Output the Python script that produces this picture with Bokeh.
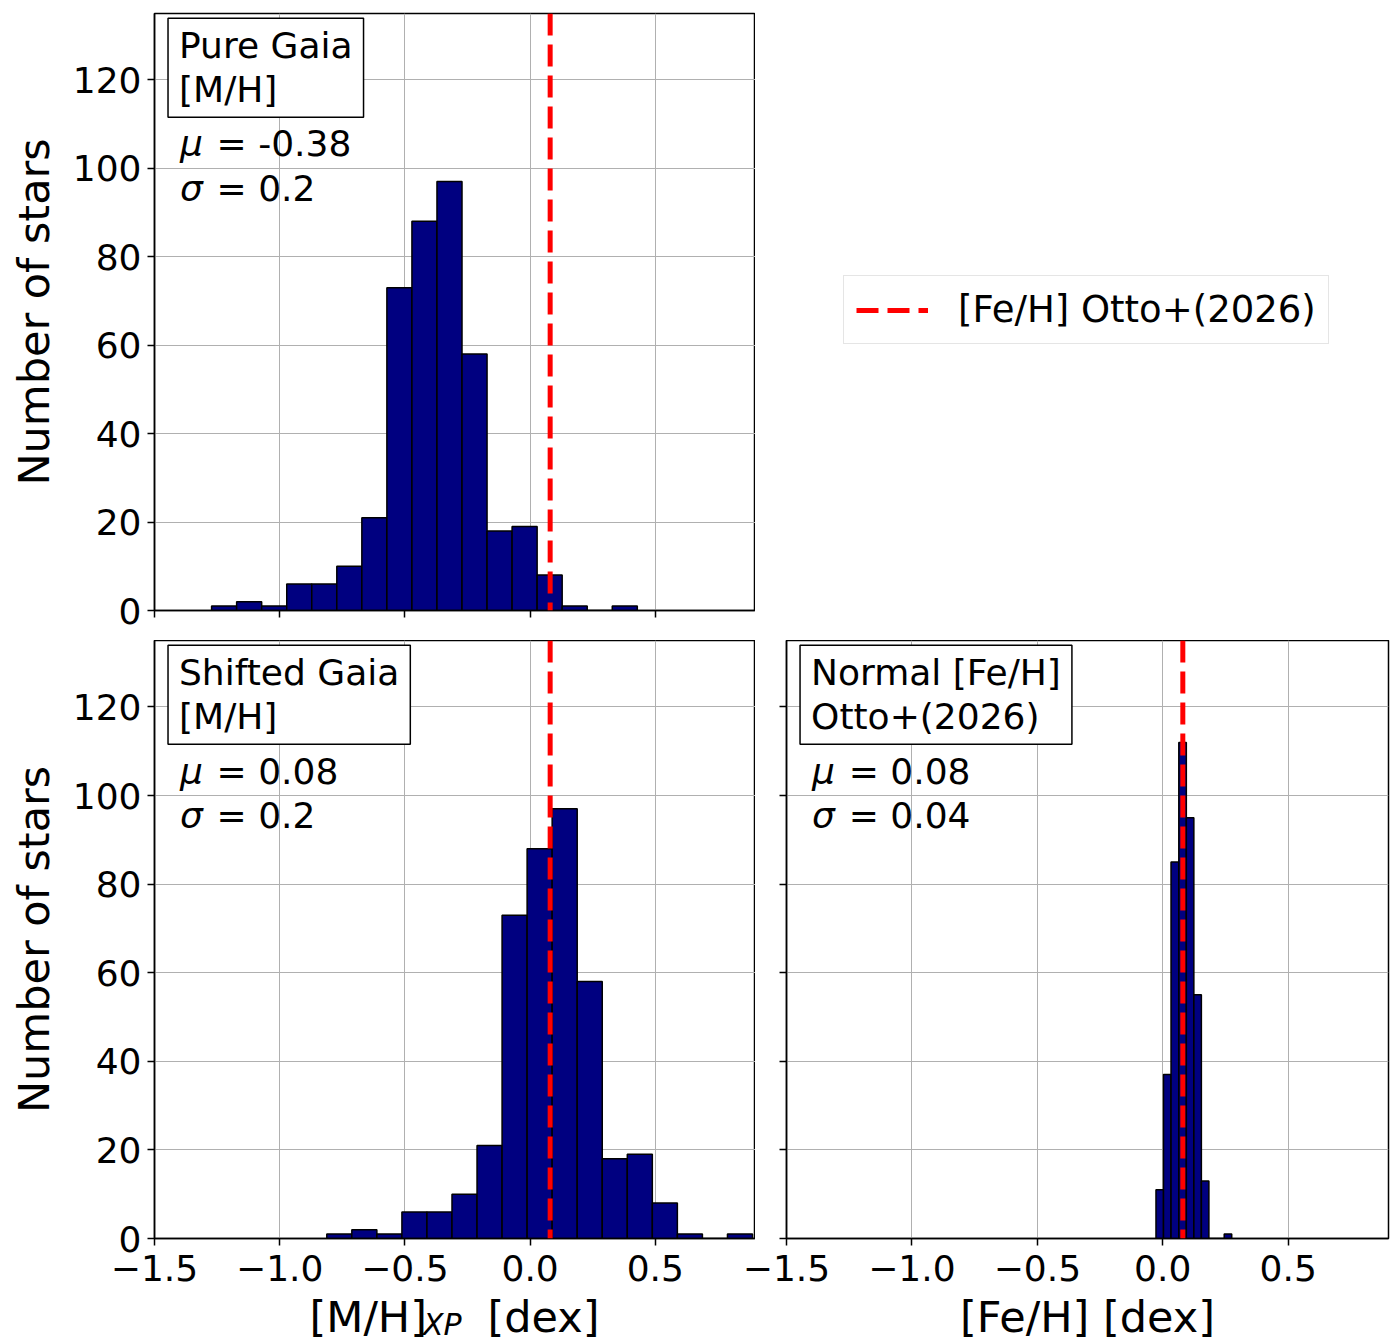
from bokeh.plotting import figure
from bokeh.layouts import column, row
from bokeh.models import Range1d, Span, Label, Legend, LegendItem, FixedTicker
from bokeh.core.properties import value
from bokeh.embed import file_html
from bokeh.resources import INLINE

FONT = "DejaVu Sans"
TICK_FS = "36px"
LABEL_FS = "43px"

# ---------------- data ----------------
pure_edges = [-1.272, -1.172, -1.072, -0.972, -0.872, -0.772, -0.672, -0.572, -0.472,
              -0.372, -0.272, -0.172, -0.072, 0.028, 0.128, 0.228, 0.328, 0.428]
pure_counts = [1, 2, 1, 6, 6, 10, 21, 73, 88, 97, 58, 18, 19, 8, 1, 0, 1]

shifted_edges = [-0.812, -0.712, -0.612, -0.512, -0.412, -0.312, -0.212, -0.112, -0.012,
                 0.088, 0.188, 0.288, 0.388, 0.488, 0.588, 0.688, 0.788, 0.888]
shifted_counts = [1, 2, 1, 6, 6, 10, 21, 73, 88, 97, 58, 18, 19, 8, 1, 0, 1]

normal_edges = [-0.027, 0.003, 0.033, 0.064, 0.094, 0.124, 0.154, 0.184, 0.214, 0.245, 0.275]
normal_counts = [11, 37, 85, 112, 95, 55, 13, 0, 0, 1]

otto_feh = 0.08

box_texts = ["Pure Gaia\n[M/H]", "Shifted Gaia\n[M/H]", "Normal [Fe/H]\nOtto+(2026)"]
mu_texts = ["-0.38", "0.08", "0.08"]
sigma_texts = ["0.2", "0.2", "0.04"]

x_ticks = [-1.5, -1.0, -0.5, 0.0, 0.5]
x_tick_labels = ["\u22121.5", "\u22121.0", "\u22120.5", "0.0", "0.5"]
y_ticks = [0, 20, 40, 60, 80, 100, 120]

legend_label = "[Fe/H] Otto+(2026)"
y_label = "Number of stars"
x_label_left = ("[M/H]", "XP", "[dex]")
x_label_right = "[Fe/H] [dex]"

X_RANGE = (-1.5, 0.9)
Y_RANGE = (0, 135)

# ---------------- layout geometry (pixels) ----------------
TOTAL_W, TOTAL_H = 1390, 1341
LEFT_W, RIGHT_W = 601, 602
LEFT_X0, RIGHT_X0 = 154, 786          # frame left edges on the page
TOP_Y0, TOP_H, TOP_GAP = 13, 597, 30
BOT_H, BOT_PAD = 598, 45              # bottom border of the lower panels (room for ticks)
BOT_Y1 = TOP_Y0 + TOP_H + TOP_GAP + BOT_H   # page y of the lower frames' bottom edge
STRIP_Y0 = BOT_Y1 + 9                 # the text strip starts just below the tick marks
STRIP_H = TOTAL_H - STRIP_Y0
STRIP_OVERLAP = (BOT_Y1 + BOT_PAD) - STRIP_Y0

# vertical centres (page pixels) of the texts under the lower panels
TICKLABEL_MID = 1267
XLABEL_MID = 1316
SUBSCRIPT_MID = 1324


def style_axis(ax):
    ax.axis_line_color = "black"
    ax.axis_line_width = 1.5
    ax.major_tick_line_color = "black"
    ax.major_tick_line_width = 1.5
    ax.major_tick_out = 7
    ax.major_tick_in = 0
    ax.minor_tick_out = 0
    ax.minor_tick_in = 0
    ax.major_label_text_font = FONT
    ax.major_label_text_font_size = TICK_FS
    ax.major_label_text_color = "black"
    ax.axis_label_text_font = FONT
    ax.axis_label_text_font_size = LABEL_FS
    ax.axis_label_text_font_style = "normal"
    ax.axis_label_text_color = "black"


def hide_labels(ax):
    ax.major_label_text_font_size = "0px"
    ax.major_label_text_color = None
    ax.major_label_standoff = 0


def make_panel(frame_w, frame_h, mb_left, mb_right, mb_top, mb_bottom,
               edges, counts, show_ylab):
    p = figure(frame_width=frame_w, frame_height=frame_h,
               x_range=Range1d(*X_RANGE), y_range=Range1d(*Y_RANGE),
               toolbar_location=None, output_backend="svg",
               min_border_left=mb_left, min_border_right=mb_right,
               min_border_top=mb_top, min_border_bottom=mb_bottom)
    p.background_fill_color = "white"
    p.border_fill_color = "white"
    p.outline_line_color = "black"
    p.outline_line_width = 1.5
    p.outline_line_alpha = 1.0

    p.quad(left=edges[:-1], right=edges[1:], top=counts, bottom=0,
           fill_color="#000080", line_color="black", line_width=1.5)

    p.yaxis.ticker = FixedTicker(ticks=y_ticks, minor_ticks=[])
    p.xaxis.ticker = FixedTicker(ticks=x_ticks, minor_ticks=[])
    style_axis(p.yaxis[0])
    style_axis(p.xaxis[0])
    p.yaxis.major_label_standoff = 6
    hide_labels(p.xaxis[0])          # x tick labels are drawn in the strip below
    if not show_ylab:
        hide_labels(p.yaxis[0])
    p.xgrid.grid_line_color = "#b0b0b0"
    p.ygrid.grid_line_color = "#b0b0b0"
    p.xgrid.grid_line_width = 1
    p.ygrid.grid_line_width = 1

    p.add_layout(Span(location=otto_feh, dimension="height", line_color="red",
                      line_dash="22 9", line_width=5))
    return p


def annotate(p, idx):
    p.add_layout(Label(x=-1.446, y=133.9, text=box_texts[idx], text_font=FONT,
                       text_font_size=TICK_FS, text_align="left", text_baseline="top",
                       text_line_height=1.07,
                       text_color="black", border_line_color="black", border_line_width=1.5,
                       background_fill_color="white", padding=(11, 7)))
    for sym, val, yv in (("\u03bc", mu_texts[idx], 105.5), ("\u03c3", sigma_texts[idx], 95.4)):
        p.add_layout(Label(x=-1.398, y=yv, text=sym, text_font=FONT, text_font_size=TICK_FS,
                           text_font_style="italic", text_align="left",
                           text_baseline="middle", text_color="black"))
        p.add_layout(Label(x=-1.252, y=yv, text="= " + val, text_font=FONT,
                           text_font_size=TICK_FS, text_align="left",
                           text_baseline="middle", text_color="black"))


# top-left
p1 = make_panel(LEFT_W, TOP_H, LEFT_X0, 0, TOP_Y0, TOP_GAP, pure_edges, pure_counts, True)
p1.yaxis.axis_label = y_label
p1.yaxis.axis_label_standoff = 11
annotate(p1, 0)

# bottom-left
p2 = make_panel(LEFT_W, BOT_H, LEFT_X0, 0, 0, BOT_PAD, shifted_edges, shifted_counts, True)
p2.yaxis.axis_label = y_label
p2.yaxis.axis_label_standoff = 11
annotate(p2, 1)

# bottom-right
p3 = make_panel(RIGHT_W, BOT_H, RIGHT_X0 - LEFT_X0 - LEFT_W, TOTAL_W - RIGHT_X0 - RIGHT_W,
                0, BOT_PAD, normal_edges, normal_counts, False)
annotate(p3, 2)

# ---------------- transparent strip (overlapping the bottom border): tick labels, x labels
span = X_RANGE[1] - X_RANGE[0]
lscale = LEFT_W / span
rscale = RIGHT_W / span
strip = figure(width=TOTAL_W, height=STRIP_H,
               x_range=Range1d(0, TOTAL_W), y_range=Range1d(0, STRIP_H),
               x_axis_type=None, y_axis_type=None, toolbar_location=None,
               output_backend="svg", min_border=0, title=None)
strip.margin = (-STRIP_OVERLAP, 0, 0, 0)
strip.extra_x_ranges = {
    "left": Range1d(X_RANGE[0] - LEFT_X0 / lscale, X_RANGE[0] + (TOTAL_W - LEFT_X0) / lscale),
    "right": Range1d(X_RANGE[0] - RIGHT_X0 / rscale, X_RANGE[0] + (TOTAL_W - RIGHT_X0) / rscale),
}
strip.outline_line_color = None
strip.background_fill_alpha = 0
strip.border_fill_alpha = 0
for rn in ("left", "right"):
    strip.text(x=x_ticks, y=TOTAL_H - TICKLABEL_MID, text=x_tick_labels, x_range_name=rn,
               text_font=value(FONT), text_font_size=value(TICK_FS), text_color="black",
               text_align="center", text_baseline="middle")

strip.add_layout(Label(x=-0.881, y=TOTAL_H - XLABEL_MID, text=x_label_left[0],
                       x_range_name="left", text_font=FONT, text_font_size=LABEL_FS,
                       text_align="left", text_baseline="middle", text_color="black"))
strip.add_layout(Label(x=-0.428, y=TOTAL_H - SUBSCRIPT_MID, text=x_label_left[1],
                       x_range_name="left", text_font=FONT, text_font_size="30px",
                       text_font_style="italic", text_align="left", text_baseline="middle",
                       text_color="black"))
strip.add_layout(Label(x=-0.170, y=TOTAL_H - XLABEL_MID, text=x_label_left[2],
                       x_range_name="left", text_font=FONT, text_font_size=LABEL_FS,
                       text_align="left", text_baseline="middle", text_color="black"))
strip.add_layout(Label(x=sum(X_RANGE) / 2, y=TOTAL_H - XLABEL_MID, text=x_label_right,
                       x_range_name="right", text_font=FONT, text_font_size=LABEL_FS,
                       text_align="center", text_baseline="middle", text_color="black"))

# ---------------- legend area (top-right) ----------------
pl = figure(width=TOTAL_W - LEFT_X0 - LEFT_W, height=TOP_Y0 + TOP_H + TOP_GAP,
            x_range=Range1d(*X_RANGE), y_range=Range1d(*Y_RANGE),
            x_axis_type=None, y_axis_type=None,
            toolbar_location=None, output_backend="svg", min_border=0)
pl.outline_line_color = None
pl.grid.visible = False
pl.background_fill_color = "white"
pl.border_fill_color = "white"
# legend proxy: the reference line, drawn below the visible range
r = pl.line(x=[otto_feh, otto_feh], y=[Y_RANGE[0] - 20, Y_RANGE[0] - 10],
            line_color="red", line_dash="22 9", line_width=5)
leg = Legend(items=[LegendItem(label=value(legend_label), renderers=[r])], location=(88, 266))
leg.label_text_font = FONT
leg.label_text_font_size = "37px"
leg.label_text_color = "black"
leg.glyph_width = 72
leg.glyph_height = 36
leg.label_height = 36
leg.label_standoff = 30
leg.padding = 12
leg.margin = 0
leg.spacing = 0
leg.border_line_color = "#cccccc"
leg.border_line_width = 1.5
leg.background_fill_color = "white"
leg.background_fill_alpha = 0.8
pl.add_layout(leg)

layout = column(row(p1, pl), row(p2, p3), strip)

with open("out.html", "w") as f:
    f.write(file_html(layout, INLINE))
